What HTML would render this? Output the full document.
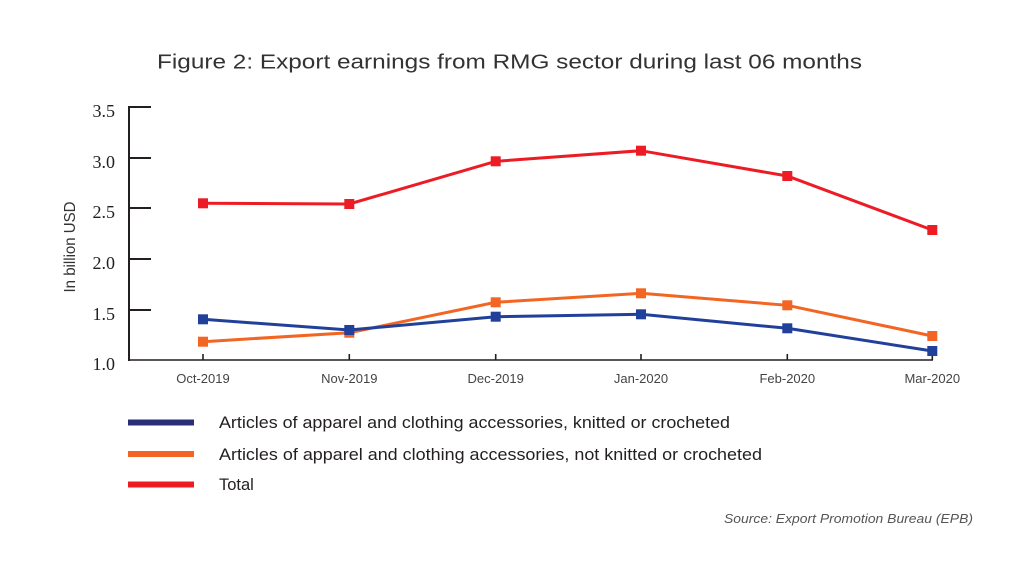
<!DOCTYPE html>
<html>
<head>
<meta charset="utf-8">
<style>
html,body{margin:0;padding:0;background:#fff;}
svg{display:block;}
</style>
</head>
<body>
<svg width="1024" height="569" viewBox="0 0 1024 569" xmlns="http://www.w3.org/2000/svg">
<rect width="1024" height="569" fill="#fff"/>
<!-- Title -->
<text x="157" y="68.5" font-family="Liberation Sans, sans-serif" font-size="20" fill="#333" textLength="705" lengthAdjust="spacingAndGlyphs">Figure 2: Export earnings from RMG sector during last 06 months</text>

<!-- Y axis -->
<g stroke="#231f20" stroke-width="2" fill="none">
<line x1="129" y1="106" x2="129" y2="361"/>
<line x1="129" y1="107" x2="151" y2="107"/>
<line x1="129" y1="158" x2="151" y2="158"/>
<line x1="129" y1="208" x2="151" y2="208"/>
<line x1="129" y1="259" x2="151" y2="259"/>
<line x1="129" y1="310" x2="151" y2="310"/>
</g>
<!-- X axis -->
<g stroke="#231f20" stroke-width="1.6" fill="none">
<line x1="128" y1="360" x2="933" y2="360"/>
<line x1="203" y1="360" x2="203" y2="354"/>
<line x1="349.3" y1="360" x2="349.3" y2="354"/>
<line x1="495.7" y1="360" x2="495.7" y2="354"/>
<line x1="641" y1="360" x2="641" y2="354"/>
<line x1="787.3" y1="360" x2="787.3" y2="354"/>
<line x1="932.3" y1="360" x2="932.3" y2="354"/>
</g>

<!-- Y tick labels -->
<g font-family="Liberation Serif, serif" font-size="18" fill="#231f20" text-anchor="end">
<text x="115" y="117">3.5</text>
<text x="115" y="168">3.0</text>
<text x="115" y="218">2.5</text>
<text x="115" y="269">2.0</text>
<text x="115" y="320">1.5</text>
<text x="115" y="370">1.0</text>
</g>

<!-- Y axis title -->
<text transform="translate(75,247) rotate(-90)" text-anchor="middle" font-family="Liberation Sans, sans-serif" font-size="16" fill="#333" textLength="91" lengthAdjust="spacingAndGlyphs">In billion USD</text>

<!-- X labels -->
<g font-family="Liberation Sans, sans-serif" font-size="13" fill="#444" text-anchor="middle">
<text x="203" y="383">Oct-2019</text>
<text x="349.3" y="383">Nov-2019</text>
<text x="495.7" y="383">Dec-2019</text>
<text x="641" y="383">Jan-2020</text>
<text x="787.3" y="383">Feb-2020</text>
<text x="932.3" y="383">Mar-2020</text>
</g>

<!-- Orange series -->
<polyline fill="none" stroke="#f26522" stroke-width="3" points="203,341.7 349.3,332.7 495.7,302.3 641,293.3 787.3,305.3 932.3,336"/>
<g fill="#f26522">
<rect x="198" y="336.7" width="10" height="10"/>
<rect x="344.3" y="327.7" width="10" height="10"/>
<rect x="490.7" y="297.3" width="10" height="10"/>
<rect x="636" y="288.3" width="10" height="10"/>
<rect x="782.3" y="300.3" width="10" height="10"/>
<rect x="927.3" y="331" width="10" height="10"/>
</g>

<!-- Blue series -->
<polyline fill="none" stroke="#21409a" stroke-width="3" points="203,319.3 349.3,330 495.7,316.7 641,314.3 787.3,328.3 932.3,351"/>
<g fill="#21409a">
<rect x="198" y="314.3" width="10" height="10"/>
<rect x="344.3" y="325" width="10" height="10"/>
<rect x="490.7" y="311.7" width="10" height="10"/>
<rect x="636" y="309.3" width="10" height="10"/>
<rect x="782.3" y="323.3" width="10" height="10"/>
<rect x="927.3" y="346" width="10" height="10"/>
</g>

<!-- Red series -->
<polyline fill="none" stroke="#ed1c24" stroke-width="3" points="203,203.3 349.3,204 495.7,161.3 641,150.7 787.3,176 932.3,230"/>
<g fill="#ed1c24">
<rect x="198" y="198.3" width="10" height="10"/>
<rect x="344.3" y="199" width="10" height="10"/>
<rect x="490.7" y="156.3" width="10" height="10"/>
<rect x="636" y="145.7" width="10" height="10"/>
<rect x="782.3" y="171" width="10" height="10"/>
<rect x="927.3" y="225" width="10" height="10"/>
</g>

<!-- Legend -->
<rect x="128" y="419.5" width="66" height="6" fill="#2b2e77"/>
<rect x="128" y="451" width="66" height="6" fill="#f26522"/>
<rect x="128" y="481.5" width="66" height="6" fill="#ed1c24"/>
<g font-family="Liberation Sans, sans-serif" font-size="16.5" fill="#231f20">
<text x="219" y="428" textLength="511" lengthAdjust="spacingAndGlyphs">Articles of apparel and clothing accessories, knitted or crocheted</text>
<text x="219" y="460" textLength="543" lengthAdjust="spacingAndGlyphs">Articles of apparel and clothing accessories, not knitted or crocheted</text>
<text x="219" y="490">Total</text>
</g>

<!-- Source -->
<text x="724" y="523" font-family="Liberation Sans, sans-serif" font-style="italic" font-size="12.5" fill="#555" textLength="249" lengthAdjust="spacingAndGlyphs">Source: Export Promotion Bureau (EPB)</text>
</svg>
</body>
</html>
